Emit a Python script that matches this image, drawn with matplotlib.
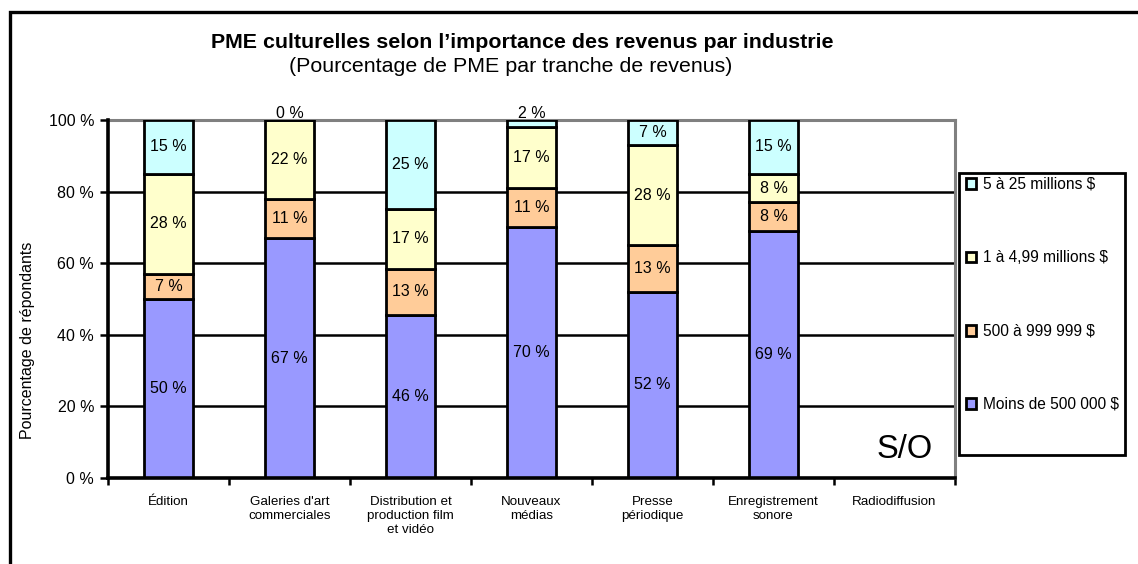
import numpy as np
import matplotlib
matplotlib.use("Agg")
import matplotlib.pyplot as plt
from matplotlib.patches import Patch, Rectangle

plt.rcParams['font.family'] = ['Liberation Sans', 'DejaVu Sans']

# DATA
industries = ["Édition", "Galeries d'art\ncommerciales", "Distribution et\nproduction film\net vidéo",
              "Nouveaux\nmédias", "Presse\npériodique", "Enregistrement\nsonore", "Radiodiffusion"]
series_names = ["Moins de 500 000 $", "500 à 999 999 $", "1 à 4,99 millions $", "5 à 25 millions $"]
moins_500k = [50, 67, 46, 70, 52, 69, 0]
de_500k_999k = [7, 11, 13, 11, 13, 8, 0]
de_1m_499m = [28, 22, 17, 17, 28, 8, 0]
de_5m_25m = [15, 0, 25, 2, 7, 15, 0]
colors = ["#9999FF", "#FFCC99", "#FFFFCC", "#CCFFFF"]

# CALCULATION (100 % stacked, like the spreadsheet)
vals = np.array([moins_500k, de_500k_999k, de_1m_499m, de_5m_25m], dtype=float)
totals = vals.sum(axis=0)
shares = np.where(totals > 0, vals / np.where(totals > 0, totals, 1) * 100, 0)
x = np.arange(len(industries))

# PRESENTATION
fig = plt.figure(figsize=(11.38, 5.64), dpi=100)
ax = fig.add_axes([108/1138, 86/564, 847/1138, 358/564])

for yg in [20, 40, 60, 80]:
    ax.axhline(yg, color='black', lw=1.8, zorder=1)

bottom = np.zeros(len(industries))
for k in range(4):
    has = totals > 0
    ax.bar(x[has], shares[k][has], bottom=bottom[has], width=0.4, color=colors[k],
           edgecolor='black', lw=2.0, zorder=3)
    for i in np.where(has)[0]:
        v = vals[k][i]
        if v < 5:
            # tiny slices get their label above the bar
            ax.annotate(f"{v:.0f} %", (x[i], 100), xytext=(0, -1), textcoords='offset points',
                        ha='center', va='bottom', fontsize=11.5, annotation_clip=False)
        else:
            ax.text(x[i], bottom[i] + shares[k][i] / 2, f"{v:.0f} %",
                    ha='center', va='center', fontsize=11.5, zorder=4)
    bottom = bottom + shares[k]

ax.text(6.08, 3.6, "S/O", ha='center', va='bottom', fontsize=23.5)

ax.set_xlim(-0.5, len(industries) - 0.5)
ax.set_ylim(0, 100)
ax.set_yticks([0, 20, 40, 60, 80, 100])
ax.set_yticklabels([f"{t} %" for t in [0, 20, 40, 60, 80, 100]], fontsize=11.5)
ax.set_xticks(x)
ax.set_xticklabels(industries, fontsize=9.6, linespacing=1.2)
ax.set_xticks(np.arange(-0.5, len(industries)), minor=True)
ax.tick_params(axis='x', which='major', length=0, pad=13)
ax.tick_params(axis='x', which='minor', length=5, width=1.8, direction='out')
ax.tick_params(axis='y', length=6, width=1.8, direction='out', pad=4)
for s in ['left', 'bottom']:
    ax.spines[s].set_linewidth(2.6)
    ax.spines[s].set_zorder(5)
for s in ['top', 'right']:
    ax.spines[s].set_color('#808080')
    ax.spines[s].set_linewidth(2.2)

fig.text(28/1138, 1 - 340/564, "Pourcentage de répondants", rotation=90,
         ha='center', va='center', fontsize=11.5)
fig.text(522/1138, 1 - 42/564, "PME culturelles selon l’importance des revenus par industrie",
         ha='center', va='center', fontsize=15.4, fontweight='bold')
fig.text(511/1138, 1 - 67/564, "(Pourcentage de PME par tranche de revenus)",
         ha='center', va='center', fontsize=15.4)

# legend, top entry = last series
handles = [Patch(facecolor=colors[k], edgecolor='black', lw=2.0) for k in [3, 2, 1, 0]]
labels = [series_names[k] for k in [3, 2, 1, 0]]
fig.legend(handles, labels, loc='upper left', bbox_to_anchor=(966/1138, 1 - 177/564),
           frameon=False, fontsize=11.2, borderpad=0, borderaxespad=0,
           handlelength=0.67, handleheight=0.67, handletextpad=0.4, labelspacing=3.75)
fig.add_artist(Rectangle((959/1138, 1 - 455/564), (1125 - 959)/1138, (455 - 173)/564,
                         transform=fig.transFigure, fill=False, edgecolor='black', lw=2.0))

# outer chart frame
fig.add_artist(Rectangle((10/1138, -0.1), 1.2, 1 - 12/564 + 0.1, transform=fig.transFigure,
                         fill=False, edgecolor='black', lw=2.4))

fig.savefig("out.png", dpi=100)
